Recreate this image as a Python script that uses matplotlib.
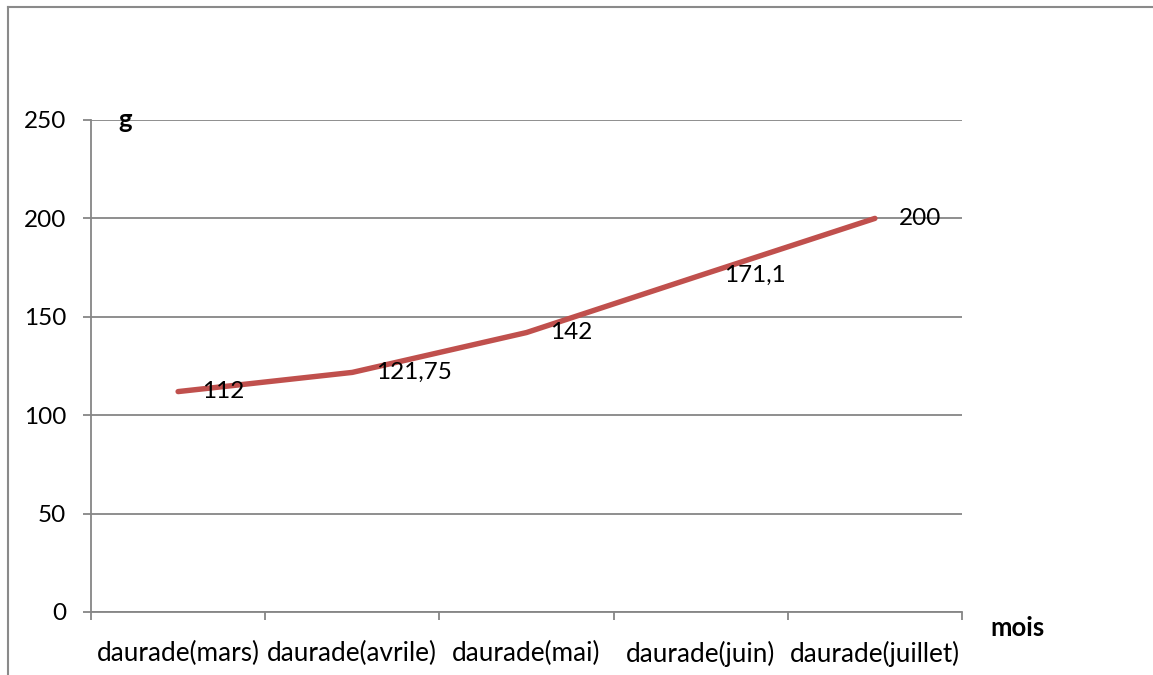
import matplotlib
matplotlib.use("Agg")
import matplotlib.pyplot as plt
from matplotlib.lines import Line2D

plt.rcParams['font.family'] = ['Lato', 'DejaVu Sans']

# Growth of the sea bream (daurade) per month, in grams
months = ["daurade(mars)", "daurade(avrile)", "daurade(mai)", "daurade(juin)", "daurade(juillet)"]
weights = [112, 121.75, 142, 171.1, 200]
y_ticks = [0, 50, 100, 150, 200, 250]

W, H = 1153, 675
fig = plt.figure(figsize=(W / 100, H / 100), dpi=100)

# plot area in pixel coordinates
left, right, top, bottom = 91, 962, 120, 612
ax = fig.add_axes([left / W, 1 - bottom / H, (right - left) / W, (bottom - top) / H])

grid_col = "#868686"
line_col = "#C0504D"
fs_num = 17.5
fs_cat = 18.8
fs_title = 18.5

x = [i + 0.5 for i in range(len(months))]
ax.plot(x, weights, color=line_col, lw=3.9, solid_capstyle="round",
        solid_joinstyle="round", zorder=3)

for xi, v in zip(x, weights):
    lab = f"{v:g}".replace(".", ",")
    ax.annotate(lab, (xi, v), xytext=(17, 0), textcoords="offset points",
                ha="left", va="center", fontsize=fs_num, color="black", zorder=4)

ax.set_xlim(0, len(months))
ax.set_ylim(0, 250)
ax.set_yticks(y_ticks)
ax.set_yticklabels([str(t) for t in y_ticks])
ax.yaxis.grid(True, color=grid_col, lw=1.3)
ax.set_axisbelow(True)

ax.set_xticks(range(len(months) + 1))
ax.set_xticklabels([])
ax.set_xticks(x, minor=True)
ax.set_xticklabels(months, minor=True)
ax.tick_params(axis="x", which="major", length=6, width=1.3, color=grid_col, direction="out")
ax.tick_params(axis="x", which="minor", length=0, pad=21, labelsize=fs_cat)
ax.tick_params(axis="y", length=6, width=1.3, color=grid_col, pad=12, labelsize=fs_num)

for s in ["top", "right"]:
    ax.spines[s].set_visible(False)
for s in ["left", "bottom"]:
    ax.spines[s].set_color(grid_col)
    ax.spines[s].set_linewidth(1.3)

# axis titles
fig.text(125 / W, 1 - 120 / H, "g", fontsize=fs_title, fontweight="bold", ha="center", va="center")
fig.text(1018 / W, 1 - 628 / H, "mois", fontsize=fs_title, fontweight="bold", ha="center", va="center")

# chart frame
fig.add_artist(Line2D([8 / W, 8 / W], [0, 1 - 7 / H], color="#8a8a8a", lw=1.5,
                      transform=fig.transFigure))
fig.add_artist(Line2D([8 / W, 1], [1 - 7 / H, 1 - 7 / H], color="#8a8a8a", lw=1.5,
                      transform=fig.transFigure))

fig.savefig("out.png", dpi=100, facecolor="white")
